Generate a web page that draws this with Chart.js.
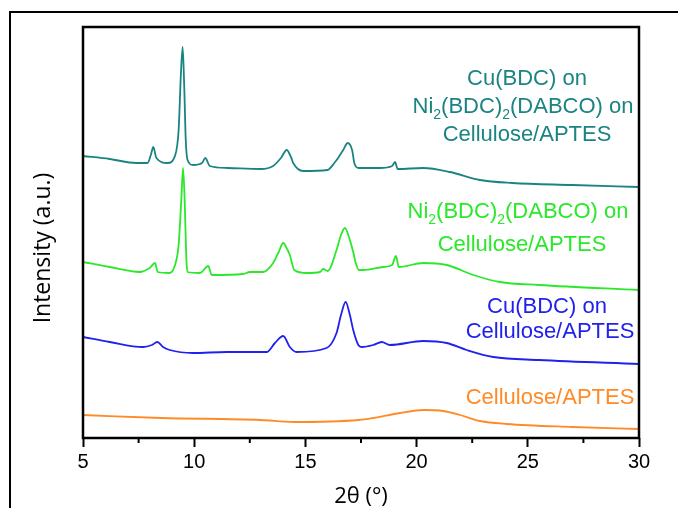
<!DOCTYPE html>
<html>
<head>
<meta charset="utf-8">
<script src="https://cdn.jsdelivr.net/npm/chart.js@4"></script>
<style>
  html, body { margin: 0; padding: 0; background: #fff; }
  #wrap { width: 678px; height: 508px; position: relative; }
</style>
</head>
<body>
<div id="wrap"><canvas id="xrd"></canvas></div>
<script>
// 2theta positions and intensities (a.u., stacked with offsets)
const cuNiX = [5.0, 6.2, 7.4, 7.9, 8.05, 8.16, 8.3, 8.8, 9.15, 9.3, 9.4, 9.48, 9.55, 9.62, 9.7, 9.95, 10.35, 10.5, 10.7, 11.5, 13.0, 13.55, 13.9, 14.16, 14.35, 14.45, 14.9, 16.0, 16.3, 16.47, 16.7, 16.9, 17.1, 17.2, 17.4, 18.35, 18.9, 19.03, 19.15, 20.3, 21.5, 22.85, 24.3, 27.0, 30.0];
const cuNiY = [282, 279, 275, 275, 283, 291, 280, 275, 283, 308, 363, 391, 353, 298, 278, 273, 275, 280, 272, 270, 269, 272, 280, 288, 281, 275, 267, 268, 275, 280, 288, 295, 288, 275, 270, 270, 272, 276, 269, 270, 266, 258, 255, 253, 251];

const niX = [5.0, 6.2, 7.55, 8.0, 8.24, 8.36, 8.9, 9.2, 9.3, 9.42, 9.5, 9.57, 9.65, 9.7, 10.26, 10.63, 10.79, 12.2, 12.5, 13.1, 13.55, 13.8, 14.0, 14.2, 14.3, 14.5, 15.06, 15.66, 15.8, 16.0, 16.4, 16.6, 16.78, 16.97, 17.15, 17.25, 17.4, 17.6, 18.5, 18.9, 19.07, 19.2, 20.3, 21.35, 22.55, 23.75, 25.5, 30.0];
const niY = [176, 171, 166, 170, 175, 166, 165, 178, 193, 238, 270, 238, 178, 166, 165, 172, 163, 164, 166, 166, 175, 186, 195, 188, 183, 168, 165, 166, 169, 167, 188, 203, 210, 200, 186, 176, 168, 168, 171, 173, 182, 171, 175, 173, 163, 156, 153, 148];

const cuX = [5.0, 6.2, 7.7, 8.1, 8.34, 8.6, 8.9, 9.95, 11.46, 13.26, 13.63, 14.0, 14.3, 14.6, 15.95, 16.4, 16.6, 16.81, 17.0, 17.15, 17.38, 17.53, 18.05, 18.43, 18.8, 20.3, 21.35, 22.25, 23.45, 25.5, 30.0];
const cuY = [101, 96, 91, 93, 96, 91, 88, 85, 86, 86, 95, 102, 91, 86, 90, 105, 123, 136, 123, 108, 93, 91, 93, 96, 93, 97, 95, 88, 81, 78, 74];

const celX = [5.0, 8.5, 13.0, 14.45, 17.4, 18.05, 19.25, 20.3, 21.2, 21.95, 22.85, 24.05, 27.0, 30.0];
const celY = [23, 20, 18, 16, 18, 20, 25, 28, 27, 23, 17, 14, 11, 9];

const xTicks = [5, 10, 15, 20, 25, 30];
const minorTicks = [7.5, 12.5, 17.5, 22.5, 27.5];

const toPoints = (xs, ys) => xs.map((x, i) => ({ x: x, y: ys[i] }));

const teal = "#1a8482";
const green = "#2be82b";
const blue = "#2121ee";
const orange = "#ff8a26";

// text blocks next to each curve: [text, isSubscript]
const captions = [
  { color: teal, lines: [
    { x: 527, y: 79, parts: [["Cu(BDC) on", 0]] },
    { x: 523, y: 107, parts: [["Ni", 0], ["2", 1], ["(BDC)", 0], ["2", 1], ["(DABCO) on", 0]] },
    { x: 527, y: 135, parts: [["Cellulose/APTES", 0]] }
  ]},
  { color: green, lines: [
    { x: 518, y: 212, parts: [["Ni", 0], ["2", 1], ["(BDC)", 0], ["2", 1], ["(DABCO) on", 0]] },
    { x: 522, y: 245, parts: [["Cellulose/APTES", 0]] }
  ]},
  { color: blue, lines: [
    { x: 547, y: 307, parts: [["Cu(BDC) on", 0]] },
    { x: 550, y: 332, parts: [["Cellulose/APTES", 0]] }
  ]},
  { color: orange, lines: [
    { x: 550, y: 398, parts: [["Cellulose/APTES", 0]] }
  ]}
];

const decor = {
  id: "decor",
  afterDraw(chart) {
    const ctx = chart.ctx;
    const a = chart.chartArea;
    const xs = chart.scales.x;
    ctx.save();

    // outer frame (runs off the picture on the right and bottom)
    ctx.strokeStyle = "#000";
    ctx.lineWidth = 2;
    ctx.strokeRect(10, 12, 760, 600);

    // plot box
    ctx.lineWidth = 2.5;
    ctx.strokeRect(a.left, a.top, a.right - a.left, a.bottom - a.top);

    // minor ticks
    ctx.lineWidth = 2;
    minorTicks.forEach(v => {
      const px = xs.getPixelForValue(v);
      ctx.beginPath();
      ctx.moveTo(px, a.bottom);
      ctx.lineTo(px, a.bottom + 5);
      ctx.stroke();
    });

    // axis titles
    ctx.fillStyle = "#000";
    ctx.textAlign = "center";
    ctx.textBaseline = "middle";
    ctx.font = "22px 'Open Sans'";
    ctx.fillText("2θ (°)", (a.left + a.right) / 2, 497);
    ctx.save();
    ctx.translate(43, 248);
    ctx.rotate(-Math.PI / 2);
    ctx.font = "23px 'Open Sans'";
    ctx.fillText("Intensity (a.u.)", 0, 0);
    ctx.restore();

    // curve captions
    const size = 22;
    const mainFont = size + "px 'Liberation Sans', Arial, sans-serif";
    const subFont = Math.round(size * 0.62) + "px 'Liberation Sans', Arial, sans-serif";
    ctx.textAlign = "left";
    ctx.textBaseline = "middle";
    captions.forEach(c => {
      ctx.fillStyle = c.color;
      c.lines.forEach(line => {
        let w = 0;
        line.parts.forEach(p => {
          ctx.font = p[1] ? subFont : mainFont;
          w += ctx.measureText(p[0]).width;
        });
        let cx = line.x - w / 2;
        line.parts.forEach(p => {
          ctx.font = p[1] ? subFont : mainFont;
          ctx.fillText(p[0], cx, p[1] ? line.y + 8 : line.y);
          cx += ctx.measureText(p[0]).width;
        });
      });
    });
    ctx.restore();
  }
};

const lineStyle = color => ({
  borderColor: color,
  backgroundColor: color,
  borderWidth: 1.8,
  pointRadius: 0,
  cubicInterpolationMode: "monotone",
  fill: false
});

new Chart(document.getElementById("xrd"), {
  type: "line",
  data: {
    datasets: [
      { label: "Cu(BDC) on Ni2(BDC)2(DABCO) on Cellulose/APTES", data: toPoints(cuNiX, cuNiY), ...lineStyle(teal) },
      { label: "Ni2(BDC)2(DABCO) on Cellulose/APTES", data: toPoints(niX, niY), ...lineStyle(green) },
      { label: "Cu(BDC) on Cellulose/APTES", data: toPoints(cuX, cuY), ...lineStyle(blue) },
      { label: "Cellulose/APTES", data: toPoints(celX, celY), ...lineStyle(orange) }
    ]
  },
  options: {
    responsive: true,
    maintainAspectRatio: false,
    animation: false,
    layout: { padding: { left: 83, right: 39, top: 27, bottom: 0 } },
    plugins: {
      legend: { display: false },
      tooltip: { enabled: false }
    },
    scales: {
      x: {
        type: "linear",
        min: 5,
        max: 30,
        afterBuildTicks: scale => { scale.ticks = xTicks.map(v => ({ value: v })); },
        afterFit: scale => { scale.height = 70; },
        border: { display: false },
        grid: {
          drawOnChartArea: false,
          drawTicks: true,
          tickLength: 9,
          tickWidth: 2,
          tickColor: "#000"
        },
        ticks: {
          color: "#000",
          padding: 3,
          maxRotation: 0,
          font: { family: "'Liberation Sans', Arial, sans-serif", size: 20 }
        },
        title: { display: false }
      },
      y: {
        display: false,
        min: 0,
        max: 411
      }
    }
  },
  plugins: [decor]
});
</script>
</body>
</html>
